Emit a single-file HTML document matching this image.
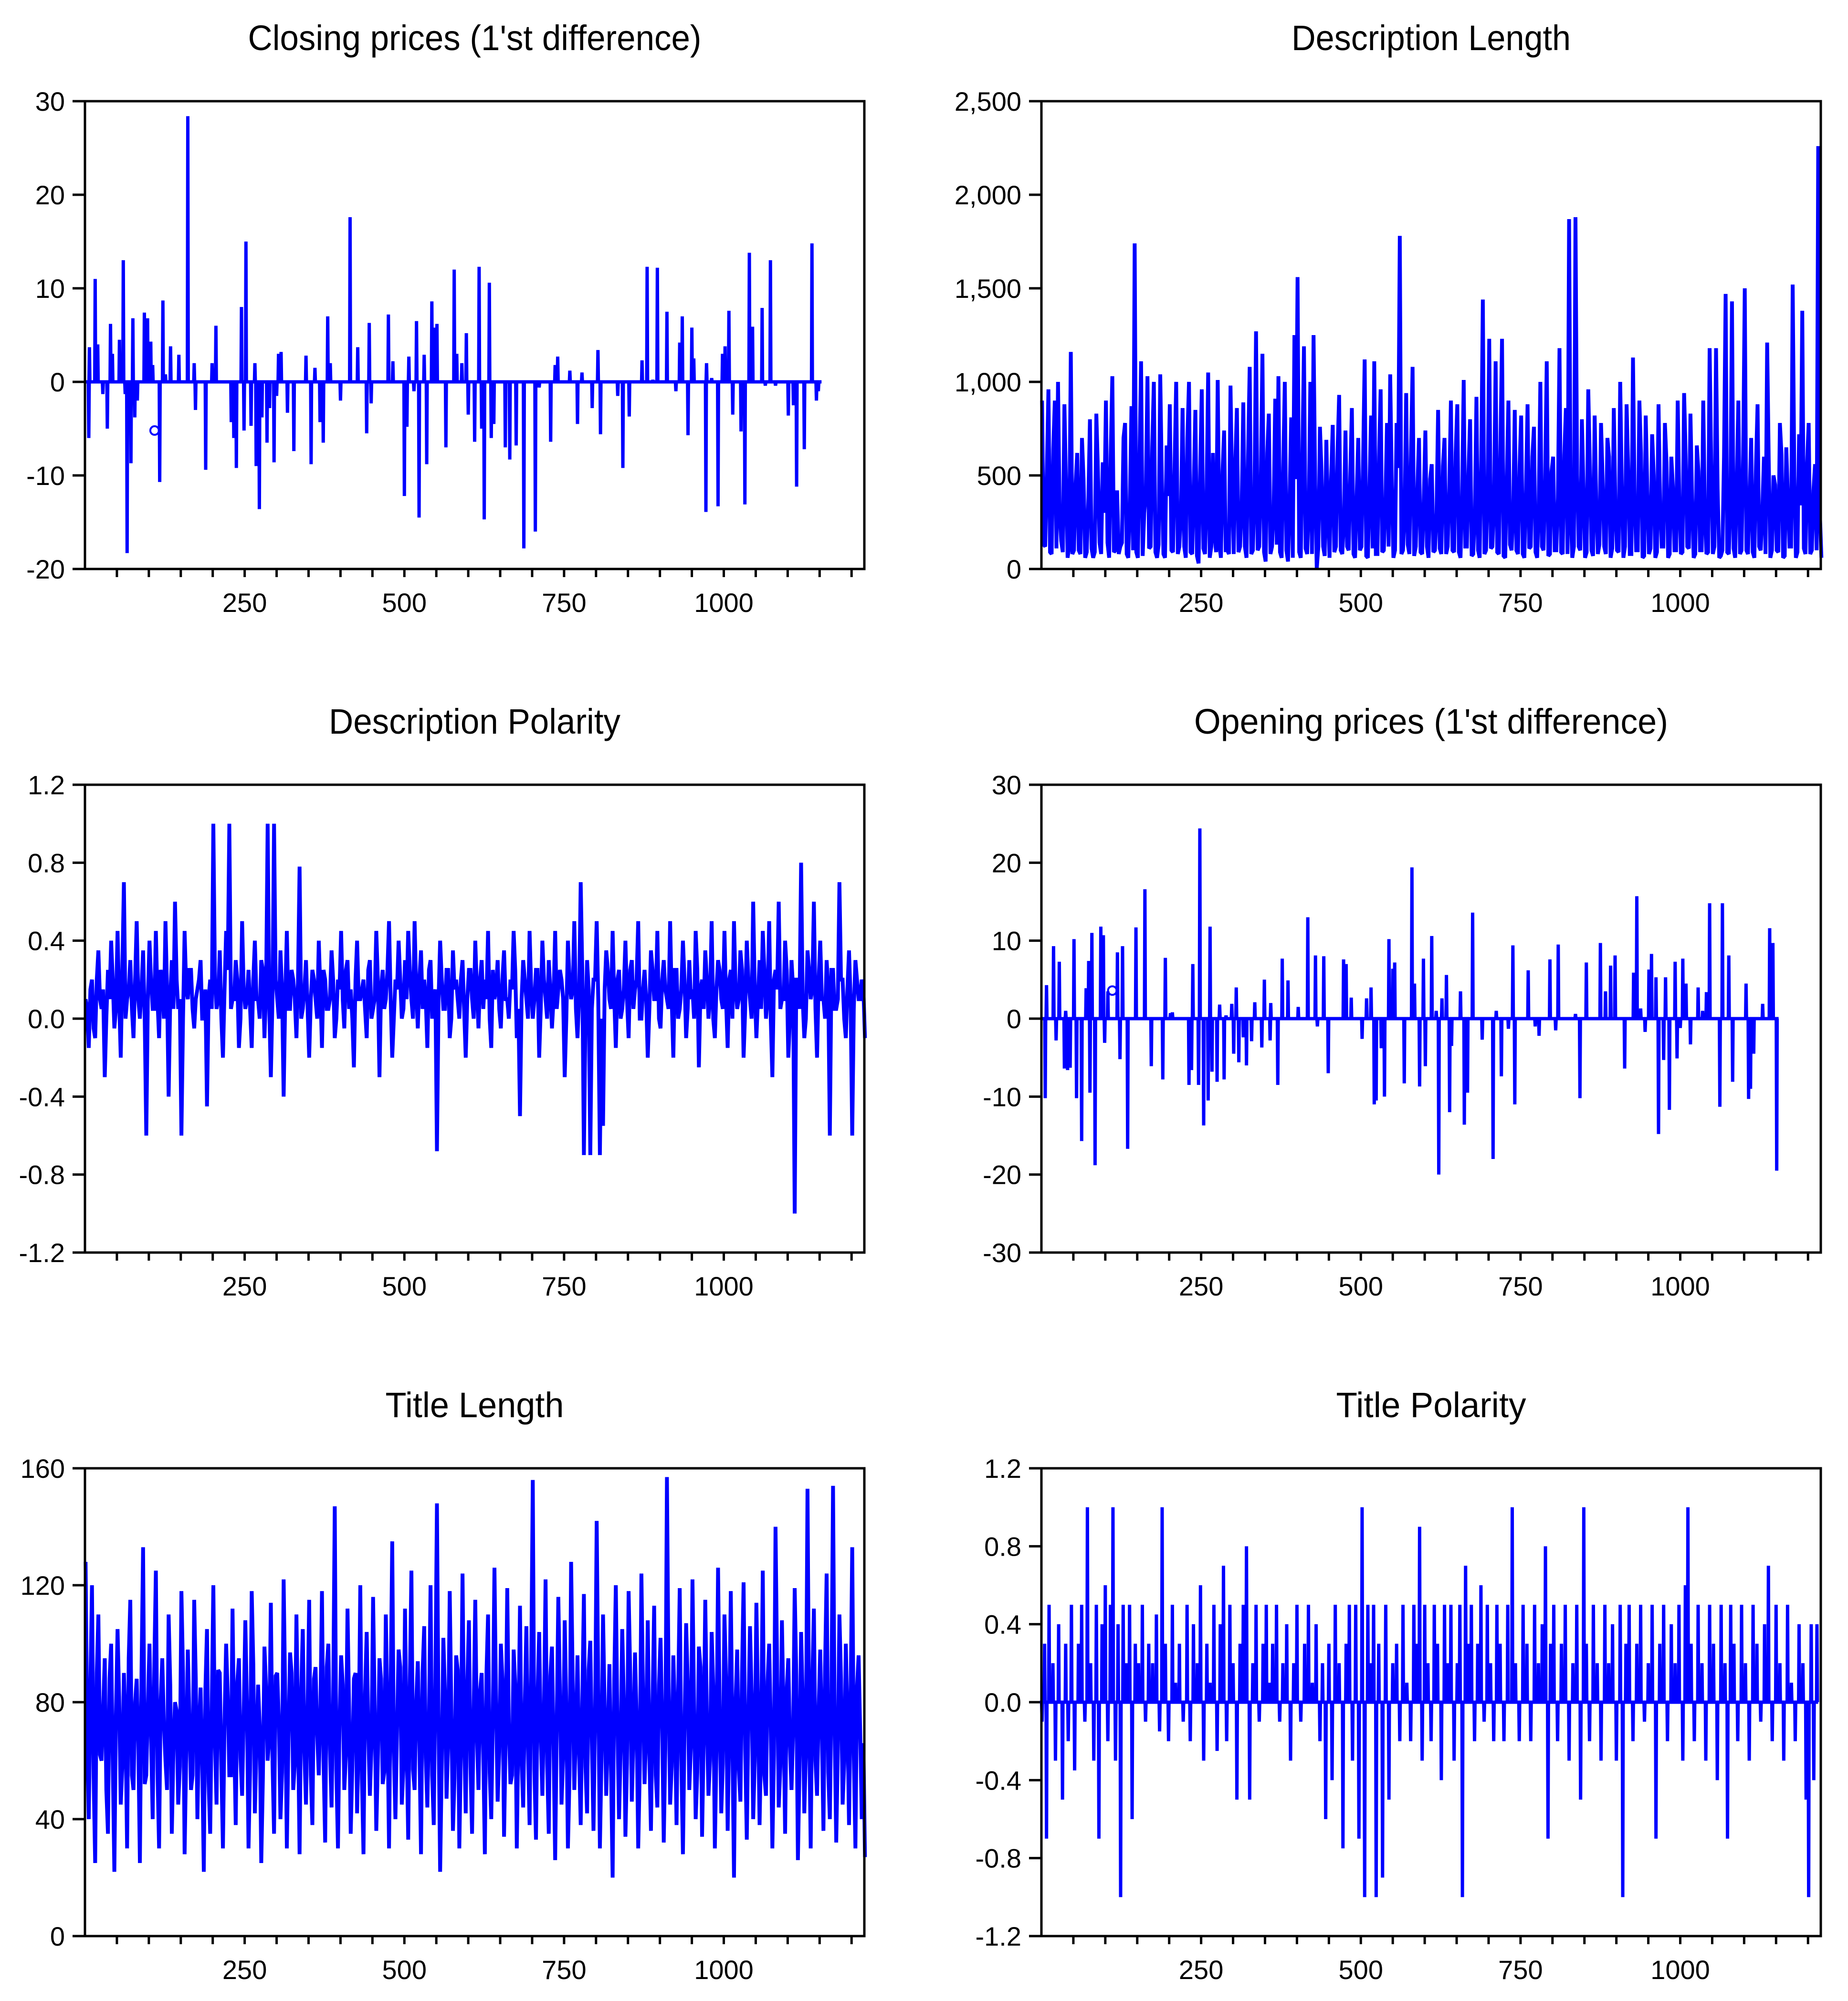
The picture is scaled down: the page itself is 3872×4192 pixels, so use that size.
<!DOCTYPE html>
<html><head><meta charset="utf-8"><style>
html,body{margin:0;padding:0;background:#fff;}
svg{display:block;}
text{font-family:"Liberation Sans",Arial,sans-serif;fill:#000;}
</style></head><body>
<svg id="chart" xmlns="http://www.w3.org/2000/svg" width="3872" height="4192" viewBox="0 0 3872 4192"></svg>
<script>
// ===== data =====
const closeSpikeX=[6,7,16,20,28,35,40,43,54,60,63,66,72,75,78,82,93,98,103,106,117,122,126,134,147,161,171,173,189,199,205,229,233,237,245,249,252,260,266,268,273,277,285,289,296,300,303,307,317,327,346,354,360,368,373,380,384,400,415,427,441,445,448,475,482,500,504,507,515,519,523,531,535,543,547,551,565,578,582,590,597,600,610,617,621,625,633,636,640,658,665,675,687,705,711,729,736,740,759,771,778,794,803,807,834,842,852,872,880,889,896,911,925,931,935,944,950,953,972,973,981,991,998,1002,1008,1014,1027,1033,1040,1045,1060,1065,1073,1081,1101,1109,1114,1126,1138,1145,1148];
const closeSpikeY=[-6,3.7,11,4,-1.3,-5,6.2,3,4.5,13,-1.3,-18.3,-8.7,6.8,-3.8,-2,7.4,6.8,4.3,1.8,-10.7,8.7,0.8,3.8,2.9,28.4,2,-3,-9.4,2,6,-4.3,-6,-9.2,8,-5.2,15,-4.7,2,-9,-13.6,-3.8,-6.5,-2.8,-8.6,-1.5,3,3.2,-3.3,-7.4,2.8,-8.8,1.5,-4.3,-6.5,7,2,-2,17.6,3.7,-5.5,6.3,-2.3,7.2,2.2,-12.2,-4.8,2.7,-1,6.5,-14.5,2.9,-8.8,8.6,5.8,6.2,-7,12,3,2,5.2,-3.5,-6.4,12.3,-5,-14.7,10.6,-6,-4.5,-7,-8.3,-6.8,-17.8,-16,-0.6,-6.4,1.8,2.7,1.2,-4.5,1,-2.8,3.4,-5.6,-1.5,-9.2,-3.7,2.3,12.3,0.2,12.2,7.5,-1,4.2,7,-5.7,5.8,2.5,-13.9,2,0.4,-13.3,3,3.8,7.6,-3.5,-5.3,-13.1,13.8,5.9,7.9,-0.4,13,-0.4,-3.6,-2.5,-11.2,-7.2,14.8,-2,-1];
const closeRange=[1,1153];
const closeOutlier=[109,-5.2];

const openSpikeX=[6,8,19,23,28,36,38,41,45,51,55,63,70,74,76,79,84,93,97,99,104,119,123,127,135,148,162,172,190,194,202,205,231,235,237,246,248,254,261,264,267,275,279,286,289,298,301,305,309,316,321,329,334,345,349,358,359,370,377,386,402,417,429,432,442,449,473,477,485,502,509,516,521,524,532,537,544,550,553,568,580,584,592,598,601,611,618,622,627,634,639,642,656,662,667,675,690,707,712,720,731,738,741,762,773,779,796,805,809,836,843,853,875,883,891,898,913,927,932,938,945,951,955,962,966,974,977,983,992,995,1000,1004,1009,1016,1028,1035,1041,1046,1062,1066,1076,1082,1103,1107,1110,1115,1129,1140,1145,1151];
const openSpikeY=[-10.2,4.3,9.3,-2.8,7.3,-6.4,1,-6.6,-6.3,10.2,-10.2,-15.7,3.9,7.4,-9.5,11,-18.8,11.8,10.7,-3.1,3.5,8.5,-5.2,9.3,-16.7,11.7,16.6,-6.1,-7.8,7.8,0.7,0.8,-8.5,-6.6,7,-8.5,24.4,-13.7,-10.5,11.8,-6.8,-8.1,1.8,-7.8,0.4,1.9,-4.5,4,-5.6,-2.4,-6,-2.9,2.1,-3.7,5,-2.8,2,-8.5,7.7,4.9,1.5,13,8.1,-1,8,-7,7.6,7,2.7,-2.6,2.6,4,-11,-10.5,-3.8,-10,10.2,6.4,7.2,-8.3,19.4,4.5,-8.7,7.7,-6.1,10.6,1,-20,2.6,5.6,-12,-3.5,3.5,-13.6,-9.5,13.6,-2.7,-18,1,-7.4,-1.3,9.4,-11,6.2,-1,-2.2,7.6,-1.5,9.5,0.6,-10.2,7.2,9.7,3.5,6.8,8.1,-6.4,5.9,15.7,1.3,-1.7,6.3,8.3,5.3,-14.8,-5.3,5.3,-11.7,7.3,-5.1,-1.2,7.7,4.5,-3.3,4,1,3.4,14.8,-11.3,14.8,8.1,-8.1,4.5,-10.3,-9,-4.5,1.9,11.6,9.7,-19.5];
const openRange=[1,1154];
const openOutlier=[111,3.6];

const descLenValues=[900,120,960,80,900,1000,150,880,60,1160,
100,620,80,480,90,800,60,830,140,570,
900,60,1030,100,80,140,780,60,870,1740,
60,1110,300,1030,120,1000,60,1040,80,660,
880,90,1000,120,860,60,1000,80,850,30,
960,80,1050,120,180,1010,60,740,100,980,
80,860,120,890,60,1080,100,1270,120,1150,
40,830,120,910,1030,60,1000,40,810,1250,
1560,60,1190,80,1000,1250,0,760,120,690,
60,770,120,930,80,740,100,860,60,700,
120,1120,60,820,1110,80,960,100,780,1040,
60,780,1780,100,940,80,1080,120,700,80,
740,60,560,100,850,80,700,120,900,90,
880,60,1010,120,800,80,920,60,1440,100,
1230,120,1110,80,1230,60,900,100,850,80,
820,60,880,120,760,60,1000,100,1110,80,
600,100,1180,80,860,1870,60,1880,120,800,
60,960,100,820,80,780,120,700,60,860,
100,1000,60,880,80,1130,100,900,60,820,
80,720,60,880,120,780,60,600,100,900,
80,940,120,830,60,660,100,900,80,1180,
80,1180,60,100,1470,80,1430,60,900,100,
1500,80,700,60,880,100,600,1210,60,500,
100,780,60,650,120,1520,60,720,1380,80,
780,100,560,2260,60];
const descLenBetween=[130,520,90,640,110,300,90,460,120,80,
450,100,700,60,380,110,90,520,80,300,
140,610,90,420,120,700,80,350,100,90,
580,70,400,110,650,90,130,480,60,390,
100,560,80,300,120,700,90,440,70,510,
110,380,60,620,90,130,520,100,80,430,
560,90,330,120,610,80,400,100,470,90,
620,80,310,130,90,540,100,370,60,480,
90,600,110,340,80,450,120,520,70,300,
480,90,620,100,260,120,510,80,390,100,
560,70,420,110,80,600,90,350,120,450,
100,540,80,300,130,610,70,420,90,360,
120,480,90,300,110,550,80,430,100,620,
90,370,120,510,70,290,100,580,80,420,
110,360,90,640,70,480,130,300,100,550,
80,420,110,600,90,330,120,470,70,520,
100,380,90,610,80,290,120,500,100,430,
90,560,70,350,130,480,80,600,110,320,
90,450,120,540,80,380,100,620,70,410,
110,500,90,330,120,570,80,440,100,360,
90,610,110,380,80,520,100,290,90,560,
120,430,70,600,90,350,110,480,80,620,
100,390,90,540,120,310,80,580,100,450,
90,610,70,380,120,500,90,340,110,560,
80,420,100,300];
const descLenRange=[1,1221];

const descPolValues=[0.1,-0.15,0.2,-0.1,0.35,0.05,-0.3,0.25,0.4,-0.05,
0.45,-0.2,0.7,0.1,0.3,-0.1,0.5,0.0,0.35,-0.6,
0.4,0.05,0.45,-0.1,0.2,0.5,-0.4,0.3,0.6,0.05,
-0.6,0.45,0.1,0.25,-0.05,0.15,0.3,0.0,-0.45,0.2,
1.0,0.05,0.35,-0.2,0.45,1.0,0.1,0.3,-0.15,0.5,
0.05,0.25,-0.15,0.4,0.1,0.3,-0.1,1.0,-0.3,1.0,
0.1,0.35,-0.4,0.45,0.05,0.2,-0.1,0.78,0.05,0.3,
-0.2,0.25,0.1,0.4,-0.15,0.2,0.05,0.35,-0.1,0.2,
0.45,-0.05,0.3,0.15,-0.25,0.4,0.1,0.2,-0.1,0.3,
0.05,0.45,-0.3,0.25,0.1,0.5,-0.2,0.2,0.4,0.0,
0.3,0.45,0.1,0.5,-0.05,0.35,0.2,-0.15,0.3,0.1,
-0.68,0.4,0.05,0.25,-0.1,0.35,0.2,0.0,0.3,-0.2,
0.25,0.1,0.4,-0.05,0.3,0.2,0.45,-0.15,0.1,0.3,
-0.05,0.35,0.1,0.2,0.45,-0.1,-0.5,0.3,0.1,0.45,
0.0,0.25,-0.2,0.4,0.1,0.3,-0.05,0.45,0.15,0.2,
-0.3,0.4,0.1,0.5,-0.1,0.7,-0.7,0.3,-0.7,0.2,
0.5,-0.7,-0.55,0.35,0.1,0.45,-0.15,0.25,0.05,0.4,
-0.1,0.3,0.15,0.5,0.0,0.25,-0.2,0.35,0.1,0.45,
-0.05,0.3,0.1,0.5,-0.2,0.25,0.05,0.4,-0.1,0.3,
0.15,0.45,-0.25,0.2,0.35,0.0,0.5,-0.1,0.3,0.1,
0.45,-0.15,0.25,0.5,0.05,0.35,-0.2,0.4,0.1,0.6,
-0.1,0.3,0.45,0.0,0.5,-0.3,0.25,0.6,0.1,0.4,
-0.2,0.3,-1.0,0.2,0.8,-0.1,0.35,0.1,0.6,-0.2,
0.4,0.1,0.3,-0.6,0.25,0.05,0.7,0.2,-0.1,0.35,
-0.6,0.3,0.1,0.2,-0.1];
const descPolBetween=[0.05,0.15,-0.05,0.2,0.1,0.15,0.0,0.1,0.2,0.05,
0.1,0.25,0.0,0.15,0.05,0.2,0.1,0.15,0.0,0.1,
0.2,0.05,0.1,0.25,0.0,0.15,0.1,0.05,0.2,0.1,
0.0,0.15,0.25,0.05,0.1,0.2,0.0,0.15,0.1,0.05,
0.2,0.1,0.0,0.15,0.25,0.05,0.1,0.2,0.0,0.15,
0.1,0.05,0.2,0.1,0.0,0.25,0.15,0.05,0.1,0.2,
0.0,0.15,0.1,0.05,0.25,0.1,0.2,0.0,0.15,0.05,
0.1,0.2,0.0,0.15,0.25,0.05,0.1,0.2,0.0,0.15,
0.1,0.25,0.05,0.0,0.2,0.1,0.15,0.05,0.25,0.0,
0.1,0.2,0.15,0.05,0.25,0.1,0.0,0.15,0.2,0.05,
0.1,0.25,0.0,0.15,0.2,0.05,0.1,0.25,0.0,0.15,
0.1,0.2,0.05,0.25,0.0,0.15,0.1,0.2,0.05,0.1,
0.25,0.0,0.15,0.2,0.05,0.1,0.0,0.25,0.15,0.05,
0.2,0.1,0.0,0.15,0.25,0.05,0.1,0.2,0.0,0.15,
0.1,0.25,0.05,0.2,0.0,0.15,0.1,0.05,0.25,0.1,
0.0,0.2,0.15,0.05,0.1,0.25,0.0,0.15,0.05,0.2,
0.1,0.0,0.15,0.25,0.05,0.1,0.2,0.0,0.15,0.1,
0.25,0.05,0.2,0.0,0.15,0.1,0.05,0.25,0.1,0.0,
0.2,0.15,0.05,0.1,0.25,0.0,0.15,0.2,0.05,0.1,
0.0,0.25,0.15,0.05,0.2,0.1,0.0,0.15,0.25,0.05,
0.1,0.2,0.0,0.15,0.1,0.25,0.05,0.2,0.0,0.15,
0.1,0.05,0.25,0.1,0.0,0.2,0.15,0.05,0.1,0.25,
0.0,0.15,0.2,0.05,0.1,0.0,0.25,0.15,0.05,0.2,
0.1,0.0,0.15,0.25,0.05,0.1,0.2,0.0,0.15,0.1,
0.05,0.2,0.1,0.15];
const descPolRange=[1,1221];

const titleLenValues=[128,40,120,25,110,60,95,35,100,22,
105,45,90,30,115,50,88,25,133,55,
100,40,125,30,95,60,110,35,80,45,
118,28,98,50,115,40,85,22,105,35,
120,45,90,30,100,55,112,38,95,48,
108,30,118,42,86,25,99,60,114,35,
90,40,122,30,97,50,110,28,105,45,
115,38,92,55,118,32,100,44,147,30,
96,50,112,35,88,42,120,28,104,48,
116,36,95,52,110,30,135,40,98,45,
112,33,125,50,94,28,106,44,120,38,
148,22,102,47,118,36,96,30,124,42,
108,35,115,50,90,28,110,40,126,46,
100,34,119,52,98,30,113,44,106,38,
156,33,104,48,122,35,99,26,116,45,
108,30,128,50,96,38,117,42,101,36,
142,30,110,48,93,20,120,40,105,34,
118,46,97,30,124,52,108,36,113,44,
102,32,157,45,96,38,119,28,107,50,
122,40,99,34,115,48,104,30,126,42,
110,36,118,20,98,46,121,33,106,40,
114,38,125,48,100,30,140,44,108,35,
95,50,119,26,104,42,153,30,112,48,
98,36,124,40,154,32,110,45,100,38,
133,30,96,40,27];
const titleLenBetween=[70,85,55,90,62,78,50,88,60,75,
82,58,72,95,55,80,66,90,52,78,
68,92,57,80,73,50,86,64,77,58,
90,62,75,55,88,70,60,84,53,79,
66,91,58,74,82,55,69,87,61,76,
80,57,93,65,72,54,85,68,60,89,
74,56,82,67,90,59,71,84,63,78,
55,88,69,76,60,92,64,80,57,73,
86,62,77,58,90,68,54,83,70,65,
79,60,88,56,75,84,63,71,92,58,
68,85,57,80,66,90,61,74,55,87,
72,59,83,66,78,54,91,64,70,86,
58,77,69,84,62,90,56,75,81,63,
88,67,73,55,86,70,60,79,64,92,
57,82,68,76,59,89,65,72,84,61,
78,55,87,70,63,80,58,91,66,74,
85,60,77,69,56,88,72,64,81,59,
90,67,75,57,84,70,62,79,55,86,
73,64,89,58,76,82,61,70,87,65,
78,56,92,68,74,60,85,63,77,59,
88,71,66,80,57,90,64,75,83,60,
79,68,55,87,72,62,91,58,76,84,
65,70,89,57,81,63,74,86,60,78,
69,92,56,83,71,64,88,59,75,80,
62,85,70,66];
const titleLenRange=[1,1221];

const titlePolX=[1,5,8,12,18,22,27,33,38,42,47,52,58,63,68,72,77,82,86,90,95,100,104,108,112,116,120,124,128,133,138,142,147,152,158,163,168,174,180,185,189,194,199,205,210,216,222,228,233,238,244,249,254,259,264,270,275,280,285,290,295,300,306,311,316,321,326,331,336,341,347,352,357,362,368,373,378,384,390,395,400,406,412,418,424,430,436,440,445,450,455,460,466,472,477,482,487,492,497,502,506,511,516,520,524,528,534,539,544,550,556,561,566,572,578,583,588,592,596,600,605,610,615,620,626,631,636,641,646,651,655,659,664,668,673,678,683,688,693,698,703,708,713,718,724,730,737,742,748,754,760,766,772,778,784,789,793,797,802,808,814,820,826,832,838,844,849,853,858,864,870,876,882,888,894,900,906,910,915,920,926,932,938,944,950,956,962,968,974,980,986,992,998,1004,1008,1012,1017,1022,1028,1034,1040,1046,1052,1058,1064,1070,1074,1079,1084,1090,1096,1102,1108,1114,1120,1126,1132,1138,1144,1150,1156,1162,1168,1174,1180,1186,1192,1197,1201,1205,1209,1214];
const titlePolY=[-0.1,0.3,-0.7,0.5,0.2,-0.3,0.4,-0.5,0.3,-0.2,0.5,-0.35,0.3,0.5,-0.1,1.0,0.2,-0.3,0.5,-0.7,0.4,0.6,-0.2,0.5,1.0,-0.3,0.4,-1.0,0.5,0.2,0.5,-0.6,0.3,0.2,0.5,-0.1,0.3,0.2,0.45,-0.15,1.0,0.3,-0.2,0.5,0.1,0.3,-0.1,0.5,-0.2,0.4,0.2,0.6,-0.3,0.3,0.1,0.5,-0.25,0.4,0.7,-0.2,0.5,0.2,-0.5,0.3,0.5,0.8,-0.5,0.2,0.5,-0.1,0.3,0.5,0.1,0.3,0.5,-0.1,0.2,0.4,-0.3,0.2,0.5,-0.1,0.3,0.5,0.1,0.4,-0.2,0.2,-0.6,0.3,-0.4,0.5,0.2,-0.75,0.3,0.5,-0.3,0.5,-0.7,1.0,-1.0,0.5,0.2,0.5,-1.0,0.3,-0.9,0.5,-0.5,0.2,0.3,-0.2,0.5,0.1,-0.2,0.5,0.3,0.9,-0.3,0.5,0.2,-0.2,0.5,0.3,-0.4,0.5,0.2,0.5,-0.3,0.2,0.5,-1.0,0.7,0.3,0.5,-0.2,0.3,0.6,-0.1,0.5,0.2,-0.2,0.5,0.3,-0.2,0.5,1.0,0.2,-0.2,0.5,0.3,-0.2,0.5,0.2,0.4,0.8,-0.7,0.3,0.5,-0.2,0.3,0.5,-0.3,0.2,0.5,-0.5,1.0,0.3,-0.2,0.5,0.2,-0.3,0.5,0.2,0.4,-0.3,0.5,-1.0,0.3,0.5,-0.2,0.3,0.5,-0.1,0.2,0.5,-0.7,0.3,0.5,-0.2,0.4,0.2,0.5,-0.3,0.6,1.0,0.3,-0.2,0.5,0.2,-0.3,0.5,0.3,-0.4,0.5,0.2,-0.7,0.5,0.3,-0.2,0.5,0.2,-0.3,0.5,0.3,-0.1,0.4,0.7,-0.2,0.5,0.2,-0.3,0.5,0.1,-0.2,0.4,0.2,-0.5,-1.0,0.4,-0.4,0.4];
const titlePolRange=[1,1215];

const xTickLabels=["250","500","750","1000"];
const yClose=["-20","-10","0","10","20","30"];
const yDescLen=["0","500","1,000","1,500","2,000","2,500"];
const yPol=["-1.2","-0.8","-0.4","0.0","0.4","0.8","1.2"];
const yOpen=["-30","-20","-10","0","10","20","30"];
const yTitleLen=["0","40","80","120","160"];

// ===== drawing =====
const NS="http://www.w3.org/2000/svg";
const svg=document.getElementById('chart');
function mk(tag,attrs,parent){const e=document.createElementNS(NS,tag);for(const k in attrs)e.setAttribute(k,attrs[k]);(parent||svg).appendChild(e);return e;}
const W=1633,H=980,XMAX=1220,BLUE="#0000ff";
function num(s){return parseFloat(s.replace(/,/g,''));}

function panel(name,col,row,title,titleLen,yLabels){
  const x0=col===0?178:2182, y0=212+row*1432;
  const ymin=num(yLabels[0]), ymax=num(yLabels[yLabels.length-1]);
  const sx=v=>x0+v/XMAX*W, sy=v=>y0+H-(v-ymin)/(ymax-ymin)*H;
  const g=mk('g',{});
  
  
  const t=mk('text',{x:x0+W/2,y:y0-107,'text-anchor':'middle','font-size':74,textLength:titleLen,lengthAdjust:'spacingAndGlyphs'},g);
  t.textContent=title;
  
  
  yLabels.forEach(l=>{
    const y=sy(num(l));
    const tk=mk('line',{x1:x0-26,x2:x0,y1:y,y2:y,stroke:'#000','stroke-width':5},g);
    
    
    const tl=mk('text',{x:x0-42,y:y+20,'text-anchor':'end','font-size':56},g);
    tl.textContent=l;
    
    
  });
  for(let v=50;v<=XMAX;v+=50){
    const x=sx(v);
    const tk=mk('line',{x1:x,x2:x,y1:y0+H,y2:y0+H+17,stroke:'#000','stroke-width':5},g);
    
    
  }
  xTickLabels.forEach(l=>{
    const tl=mk('text',{x:sx(num(l)),y:y0+H+90,'text-anchor':'middle','font-size':56},g);
    tl.textContent=l;
    
    
  });
  return {g,sx,sy,x0,y0};
}
function frame(p,name){
  const r=mk('rect',{x:p.x0,y:p.y0,width:W,height:H,fill:'none',stroke:'#000','stroke-width':5},p.g);
  
  
}
function spikeLine(p,name,xs,ys,range){
  let d='M'+p.sx(range[0])+','+p.sy(0);
  for(let i=0;i<xs.length;i++){
    d+=' L'+p.sx(xs[i]-0.7)+','+p.sy(0)+' L'+p.sx(xs[i])+','+p.sy(ys[i])+' L'+p.sx(xs[i]+0.7)+','+p.sy(0);
  }
  d+=' L'+p.sx(range[1])+','+p.sy(0);
  const path=mk('path',{d:d,fill:'none',stroke:BLUE,'stroke-width':7,'stroke-linejoin':'miter','stroke-miterlimit':2},p.g);
  
  
}
function merged(a,b){
  const out=[];
  for(let i=0;i<a.length;i++){out.push(a[i]);if(i<a.length-1&&i<b.length)out.push(b[i]);}
  return out;
}
function denseLine(p,name,vals,range){
  const n=vals.length;
  let d='';
  for(let i=0;i<n;i++){
    const xv=range[0]+i*(range[1]-range[0])/(n-1);
    d+=(i?' L':'M')+p.sx(xv).toFixed(1)+','+p.sy(vals[i]).toFixed(1);
  }
  const path=mk('path',{d:d,fill:'none',stroke:BLUE,'stroke-width':8,'stroke-linejoin':'miter','stroke-miterlimit':2},p.g);
  
  
}
function outlier(p,name,pt){
  const c=mk('circle',{cx:p.sx(pt[0]),cy:p.sy(pt[1]),r:9,fill:'none',stroke:BLUE,'stroke-width':4},p.g);
  
  
}

let p;
p=panel('closing-prices',0,0,"Closing prices (1'st difference)",950,yClose);
spikeLine(p,'closing-prices',closeSpikeX,closeSpikeY,closeRange);outlier(p,'closing-prices',closeOutlier);frame(p,'closing-prices');

p=panel('description-length',1,0,"Description Length",585,yDescLen);
denseLine(p,'description-length',merged(descLenValues,descLenBetween),descLenRange);frame(p,'description-length');

p=panel('description-polarity',0,1,"Description Polarity",611,yPol);
denseLine(p,'description-polarity',merged(descPolValues,descPolBetween),descPolRange);frame(p,'description-polarity');

p=panel('opening-prices',1,1,"Opening prices (1'st difference)",993,yOpen);
spikeLine(p,'opening-prices',openSpikeX,openSpikeY,openRange);outlier(p,'opening-prices',openOutlier);frame(p,'opening-prices');

p=panel('title-length',0,2,"Title Length",374,yTitleLen);
denseLine(p,'title-length',merged(titleLenValues,titleLenBetween),titleLenRange);frame(p,'title-length');

p=panel('title-polarity',1,2,"Title Polarity",398,yPol);
spikeLine(p,'title-polarity',titlePolX,titlePolY,titlePolRange);frame(p,'title-polarity');
</script>
</body></html>
